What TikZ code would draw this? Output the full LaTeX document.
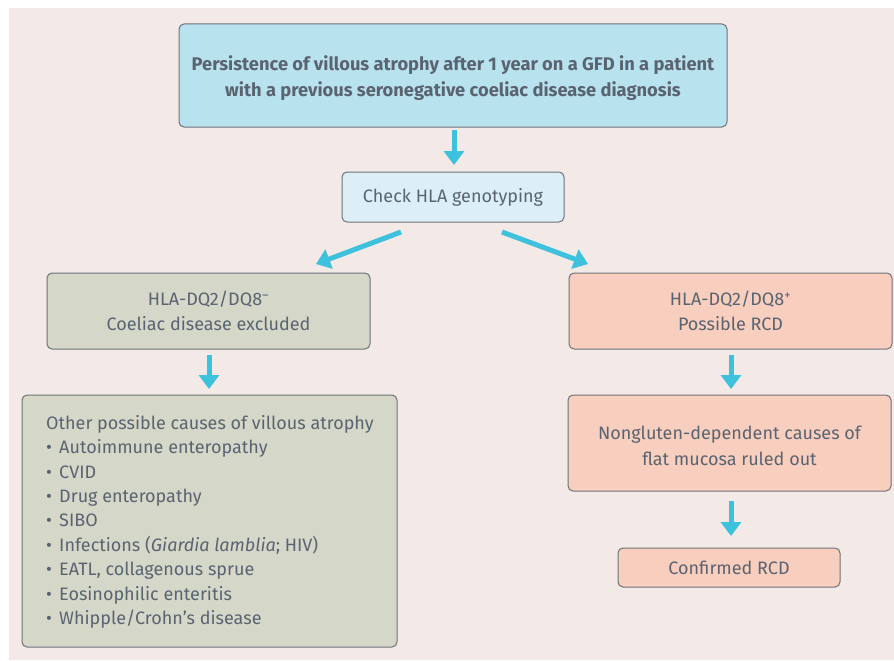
\documentclass[tikz,border=0pt]{standalone}
\usepackage{fontspec}
\setmainfont{Fira Sans}
\usetikzlibrary{arrows.meta}
\definecolor{bgc}{HTML}{F3E9E7}
\definecolor{txt}{HTML}{5A6470}
\definecolor{bord}{HTML}{6E7378}
\definecolor{cyanA}{HTML}{3DC1DC}
\definecolor{topfill}{HTML}{B8E2EE}
\definecolor{hlafill}{HTML}{DCEFF6}
\definecolor{greyfill}{HTML}{D5D7C9}
\definecolor{pinkfill}{HTML}{F8CEBE}
\tikzset{
  box/.style={draw=bord, line width=1pt, rounded corners=5pt, text=txt, align=center, inner sep=0pt,
    font=\fontsize{18}{25}\selectfont},
  arr/.style={draw=cyanA, line width=5pt, -{Triangle[width=20pt,length=14pt]}},
}
\newcommand{\itm}{•\hspace{0.4em}}
\begin{document}
\begin{tikzpicture}[x=1pt,y=-1pt]
\useasboundingbox (0,0) rectangle (894,661);
\fill[bgc] (9,8) rectangle (894,660);
\node[box, fill=topfill, minimum width=548pt, minimum height=103pt] (top) at (453,75.5) {};
\node[text=txt, align=center, inner sep=0pt, font=\fontsize{18.3}{26}\selectfont\bfseries] (toptext) at (453,78.5)
  {Persistence of villous atrophy after 1 year on a GFD in a patient\\ with a previous seronegative coeliac disease diagnosis};
\node[box, fill=hlafill, minimum width=222pt, minimum height=50pt] (hla) at (453,197)
  {Check HLA genotyping};
\node[box, fill=greyfill, minimum width=323pt, minimum height=76pt] (neg) at (208.5,311)
  {HLA-DQ2/DQ8\textsuperscript{–}\\ Coeliac disease excluded};
\node[box, fill=pinkfill, minimum width=323pt, minimum height=76pt] (pos) at (730.5,311)
  {HLA-DQ2/DQ8\textsuperscript{+}\\ Possible RCD};
\node[box, fill=greyfill, minimum width=375pt, minimum height=252pt] (other) at (209.5,521) {};
\node[text=txt, anchor=north west, align=left, inner sep=0pt, font=\fontsize{18}{24.4}\selectfont] (list) at (46,415)
  {Other possible causes of villous atrophy\\
  \itm Autoimmune enteropathy\\
  \itm CVID\\
  \itm Drug enteropathy\\
  \itm SIBO\\
  \itm Infections (\textit{Giardia lamblia}; HIV)\\
  \itm EATL, collagenous sprue\\
  \itm Eosinophilic enteritis\\
  \itm Whipple/Crohn’s disease};
\node[box, fill=pinkfill, minimum width=323pt, minimum height=96pt] (nong) at (729.5,443) {};
\node[text=txt, align=center, inner sep=0pt, font=\fontsize{18}{26}\selectfont] (nongtext) at (729.5,445.5)
  {Nongluten-dependent causes of\\ flat mucosa ruled out};
\node[box, fill=pinkfill, minimum width=222pt, minimum height=39pt] (conf) at (729,567.5)
  {Confirmed RCD};
\coordinate (a1s) at (454,130); \coordinate (a1e) at (454,165);
\draw[arr] (a1s) -- (a1e);
\coordinate (a2s) at (401,232); \coordinate (a2e) at (316,264);
\draw[arr] (a2s) -- (a2e);
\coordinate (a3s) at (502,232); \coordinate (a3e) at (588,264);
\draw[arr] (a3s) -- (a3e);
\coordinate (a4s) at (209,355); \coordinate (a4e) at (209,389);
\draw[arr] (a4s) -- (a4e);
\coordinate (a5s) at (731,355); \coordinate (a5e) at (731,389);
\draw[arr] (a5s) -- (a5e);
\coordinate (a6s) at (731,501); \coordinate (a6e) at (731,536);
\draw[arr] (a6s) -- (a6e);
\end{tikzpicture}
\end{document}
